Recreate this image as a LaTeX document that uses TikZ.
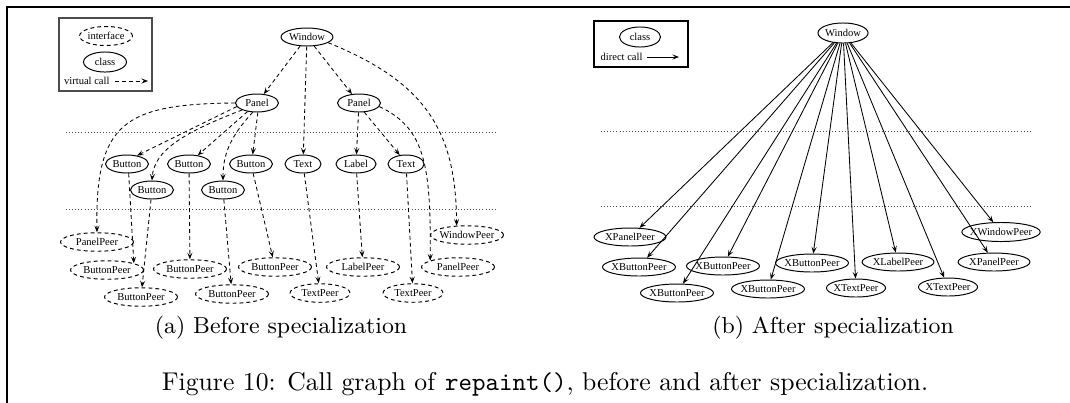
\documentclass[tikz,border=0pt]{standalone}
\usepackage{fontspec}
\newfontfamily\gfont{Liberation Serif}
\usetikzlibrary{arrows.meta,shapes.geometric}
\newcommand{\nb}[1]{\makebox[0pt]{#1}}
\begin{document}
\begin{tikzpicture}[x=0.389pt,y=-0.389pt,
  gn/.style={ellipse, draw, line width=0.38pt, inner sep=0pt, minimum height=7pt, font=\gfont\fontsize{4.1}{5}\selectfont},
  dn/.style={gn, dash pattern=on 1.5pt off 1.2pt},
  lbl/.style={inner sep=0pt, font=\gfont\fontsize{4.1}{5}\selectfont},
  tipv/.style={-{Stealth[length=2.6pt,width=2pt,inset=1.1pt]}},
  va/.style={draw, line width=0.33pt, dash pattern=on 1.5pt off 1.2pt, tipv},
  da/.style={draw, line width=0.33pt, tipv},
  sep/.style={line width=0.35pt, draw=black!70, dash pattern=on 0.35pt off 0.85pt},
  wB/.style={minimum width=16.7pt},
  wP/.style={minimum width=28.4pt, minimum height=7.2pt},
  wT/.style={minimum width=23.3pt, minimum height=7.2pt},
  subcap/.style={inner sep=0pt, anchor=base, font=\fontsize{9}{11}\selectfont},
]
\useasboundingbox (0,0) rectangle (1070,402);
% frame
\coordinate (f0) at (7,410);
\coordinate (f1) at (7,7);
\coordinate (f2) at (1078,7);
\draw[line width=0.78pt, line join=miter] (f0) -- (f1) -- (f2);

% ---------- left: before specialization ----------
\draw[line width=0.75pt, draw=black!70] (59,18) rectangle (152,91);
\node[dn, minimum width=20.6pt, minimum height=7.4pt] (li) at (106,36) {\nb{interface}};
\node[gn, minimum width=16.7pt, minimum height=7.8pt] (lc) at (105,62) {\nb{class}};
\node[lbl, anchor=east] (lv) at (110,81) {virtual call};
\coordinate (lv1) at (115,81);
\coordinate (lv2) at (148,81);
\draw[va] (lv1) -- (lv2);

\draw[sep] (66,132) -- (497,132);
\draw[sep] (66,209) -- (497,209);

\node[gn, minimum width=20.2pt] (W) at (307,37) {\nb{Window}};
\node[gn, wB] (PL) at (257,103) {\nb{Panel}};
\node[gn, wB] (PR) at (359,103) {\nb{Panel}};
\node[gn, wB] (B1) at (127,164) {\nb{Button}};
\node[gn, wB] (B2) at (189,164) {\nb{Button}};
\node[gn, wB] (B3) at (251,164) {\nb{Button}};
\node[gn, minimum width=14pt] (T1) at (303,164) {\nb{Text}};
\node[gn, minimum width=15.6pt] (L) at (356,164) {\nb{Label}};
\node[gn, minimum width=14pt] (T2) at (406,164) {\nb{Text}};
\node[gn, wB] (B4) at (152,190) {\nb{Button}};
\node[gn, wB] (B5) at (223,190) {\nb{Button}};

\node[dn, wP] (PP1) at (97,242) {\nb{PanelPeer}};
\node[dn, wP] (WP) at (467,235) {\nb{WindowPeer}};
\node[dn, wP] (BP1) at (107,270) {\nb{ButtonPeer}};
\node[dn, wP] (BP2) at (190,269) {\nb{ButtonPeer}};
\node[dn, wP] (BP3) at (275,267) {\nb{ButtonPeer}};
\node[dn, wP] (LP) at (363,267) {\nb{LabelPeer}};
\node[dn, wP] (PP2) at (458,267) {\nb{PanelPeer}};
\node[dn, wP] (BP4) at (141,297) {\nb{ButtonPeer}};
\node[dn, wP] (BP5) at (232,294) {\nb{ButtonPeer}};
\node[dn, wT] (TP1) at (320,293) {\nb{TextPeer}};
\node[dn, wT] (TP2) at (413,293) {\nb{TextPeer}};

\draw[va] (W) -- (PL);
\draw[va] (W) -- (T1);
\draw[va] (W) -- (PR);
\draw[va] (W.-15) .. controls (425,82) and (456,130) .. (WP.138);
\draw[va] (PL.west) .. controls (125,104) and (95,122) .. (PP1.north);
\draw[va] (PL.190) -- (B1.40);
\draw[va] (PL.205) .. controls (185,132) and (154,150) .. (B4.north);
\draw[va] (PL.222) -- (B2.45);
\draw[va] (PL.245) .. controls (232,135) and (223,152) .. (B5.north);
\draw[va] (PL.275) -- (B3.80);
\draw[va] (PR) -- (L);
\draw[va] (PR.300) -- (T2.125);
\draw[va] (PR.-10) .. controls (425,128) and (431,165) .. (PP2.167);
\draw[va] (B1.-80) -- (BP1.14);
\draw[va] (B4) -- (BP4);
\draw[va] (B2) -- (BP2);
\draw[va] (B5) -- (BP5);
\draw[va] (B3) -- (BP3);
\draw[va] (T1) -- (TP1);
\draw[va] (L) -- (LP);
\draw[va] (T2) -- (TP2);

\node[subcap] (ca) at (281,333) {(a) Before specialization};

% ---------- right: after specialization ----------
\draw[line width=0.4pt] (594,21) rectangle (688,67);
\node[gn, minimum width=16pt, minimum height=7.8pt] (rc) at (640,37) {\nb{class}};
\node[lbl, anchor=east] (rd) at (643,57) {direct call};
\coordinate (rd1) at (647,57);
\coordinate (rd2) at (679,57);
\draw[da] (rd1) -- (rd2);

\draw[sep] (601,131) -- (1032,131);
\draw[sep] (601,206) -- (1032,206);

\node[gn, minimum width=19.5pt, minimum height=7.8pt] (W2) at (843,33) {\nb{Window}};
\node[gn, minimum width=28pt] (XPP1) at (630,237) {\nb{XPanelPeer}};
\node[gn, minimum width=30.5pt, minimum height=7.4pt] (XWP) at (1001,232) {\nb{XWindowPeer}};
\node[gn, minimum width=28.4pt] (XBP1) at (639,267) {\nb{XButtonPeer}};
\node[gn, minimum width=28.4pt] (XBP2) at (723,266) {\nb{XButtonPeer}};
\node[gn, minimum width=28.4pt] (XBP3) at (812,263) {\nb{XButtonPeer}};
\node[gn, minimum width=28pt] (XLP) at (898,262) {\nb{XLabelPeer}};
\node[gn, minimum width=28pt] (XPP2) at (994,262) {\nb{XPanelPeer}};
\node[gn, minimum width=28.4pt] (XBP4) at (677,293) {\nb{XButtonPeer}};
\node[gn, minimum width=28.4pt] (XBP5) at (768,289) {\nb{XButtonPeer}};
\node[gn, minimum width=23pt] (XTP1) at (856,288) {\nb{XTextPeer}};
\node[gn, minimum width=23pt] (XTP2) at (948,287) {\nb{XTextPeer}};

\foreach \t in {XPP1,XBP1,XBP4,XBP2,XBP5,XBP3,XTP1,XLP,XTP2,XPP2,XWP}
  \draw[da] (W2) -- (\t);

\node[subcap] (cb) at (833,333) {(b) After specialization};

% ---------- caption ----------
\node[inner sep=0pt, anchor=base, font=\fontsize{10}{12}\selectfont] (cap) at (545,390)
  {Figure 10: Call graph of \texttt{repaint()}, before and after specialization.};
\end{tikzpicture}
\end{document}
